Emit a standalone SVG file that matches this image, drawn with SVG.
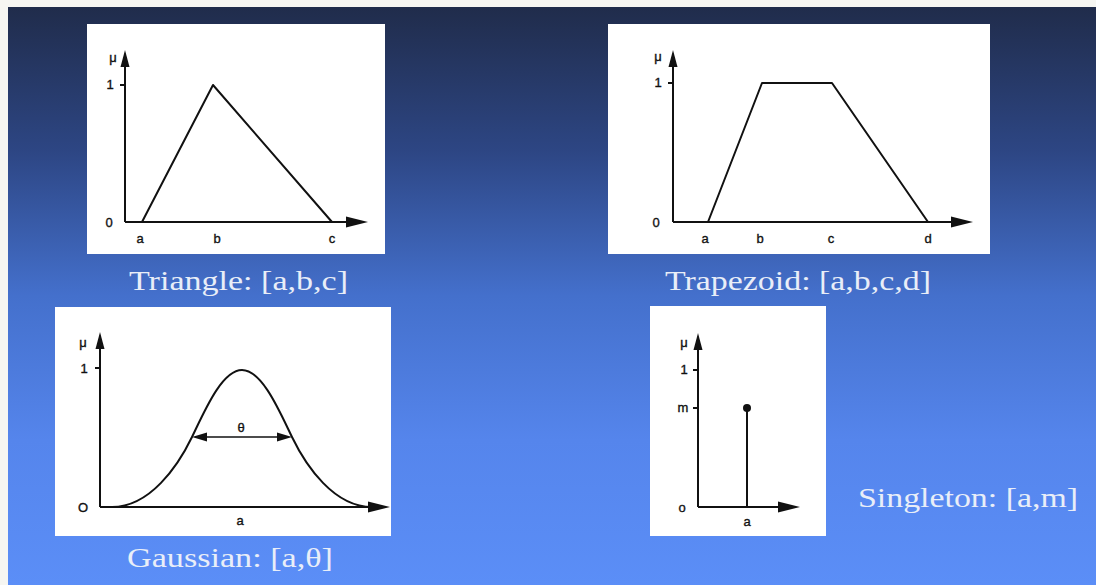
<svg xmlns="http://www.w3.org/2000/svg" width="1096" height="585" viewBox="0 0 1096 585">
<defs>
<linearGradient id="bg" x1="0" y1="7" x2="0" y2="585" gradientUnits="userSpaceOnUse">
<stop offset="0" stop-color="#202c4b"/>
<stop offset="0.25" stop-color="#2d4684"/>
<stop offset="0.5" stop-color="#4470cc"/>
<stop offset="0.75" stop-color="#5585ec"/>
<stop offset="1" stop-color="#5b8ef7"/>
</linearGradient>
<style>
.box{fill:#ffffff}
.ax{stroke:#111;stroke-width:2;fill:none}
.cv{stroke:#111;stroke-width:2;fill:none;stroke-linejoin:round}
.ah{fill:#111}
.lb{font-family:"Liberation Sans",Arial,sans-serif;font-size:13px;fill:#111;stroke:#111;stroke-width:0.35;text-anchor:middle}
.cap{font-family:"Liberation Serif","Times New Roman",serif;font-size:28px;fill:#e9eef8}
</style>
</defs>
<rect x="0" y="0" width="1096" height="585" fill="#f6f6f2"/>
<rect x="8" y="7" width="1088" height="578" fill="url(#bg)"/>

<g id="triangle">
<rect class="box" x="87" y="24" width="298" height="230"/>
<line class="ax" x1="125" y1="222" x2="125" y2="64"/>
<polygon class="ah" points="125,50 120.5,67 129.5,67"/>
<line class="ax" x1="125" y1="222" x2="350" y2="222"/>
<polygon class="ah" points="368,222 346,216.5 346,227.5"/>
<line class="ax" x1="120" y1="85" x2="125" y2="85"/>
<polyline class="cv" points="142,222 213,85 332,222"/>
<text class="lb" x="113" y="62">μ</text>
<text class="lb" x="110" y="89">1</text>
<text class="lb" x="109" y="227">0</text>
<text class="lb" x="140" y="243">a</text>
<text class="lb" x="217" y="243">b</text>
<text class="lb" x="332" y="243">c</text>
<text class="cap" x="129" y="290" textLength="219" lengthAdjust="spacingAndGlyphs">Triangle: [a,b,c]</text>
</g>

<g id="trapezoid">
<rect class="box" x="608" y="24" width="382" height="230"/>
<line class="ax" x1="673" y1="222" x2="673" y2="64"/>
<polygon class="ah" points="673,50 668.5,67 677.5,67"/>
<line class="ax" x1="673" y1="222" x2="955" y2="222"/>
<polygon class="ah" points="973,222 951,216.5 951,227.5"/>
<line class="ax" x1="668" y1="83" x2="673" y2="83"/>
<polyline class="cv" points="708,222 762,83 832,83 928,222"/>
<text class="lb" x="658" y="61">μ</text>
<text class="lb" x="658" y="87">1</text>
<text class="lb" x="656" y="227">0</text>
<text class="lb" x="705" y="243">a</text>
<text class="lb" x="760" y="243">b</text>
<text class="lb" x="831" y="243">c</text>
<text class="lb" x="928" y="243">d</text>
<text class="cap" x="665" y="290" textLength="266" lengthAdjust="spacingAndGlyphs">Trapezoid: [a,b,c,d]</text>
</g>

<g id="gaussian">
<rect class="box" x="55" y="307" width="336" height="229"/>
<line class="ax" x1="100" y1="507" x2="100" y2="346"/>
<polygon class="ah" points="100,332 95.5,349 104.5,349"/>
<line class="ax" x1="100" y1="507" x2="372" y2="507"/>
<polygon class="ah" points="390,507 368,501.5 368,512.5"/>
<line class="ax" x1="95" y1="368" x2="100" y2="368"/>
<path class="cv" d="M112,507 C150,507 178,466 192,437 C204.6,410.9 222,370 242,370 C262,370 279.4,410.9 292,437 C306,466 334,507 372,507"/>
<line class="ax" x1="200" y1="437" x2="285" y2="437" style="stroke-width:1.5"/>
<polygon class="ah" points="192,437 207,432.5 207,441.5"/>
<polygon class="ah" points="292,437 277,432.5 277,441.5"/>
<text class="lb" x="241" y="432">θ</text>
<text class="lb" x="83" y="347">μ</text>
<text class="lb" x="84" y="373">1</text>
<text class="lb" x="83" y="512">O</text>
<text class="lb" x="240" y="525">a</text>
<text class="cap" x="127" y="567" textLength="206" lengthAdjust="spacingAndGlyphs">Gaussian: [a,θ]</text>
</g>

<g id="singleton">
<rect class="box" x="650" y="306" width="176" height="230"/>
<line class="ax" x1="698" y1="507" x2="698" y2="347"/>
<polygon class="ah" points="698,333 693.5,350 702.5,350"/>
<line class="ax" x1="698" y1="507" x2="782" y2="507"/>
<polygon class="ah" points="800,507 778,501.5 778,512.5"/>
<line class="ax" x1="693" y1="370" x2="698" y2="370"/>
<line class="ax" x1="693" y1="408" x2="698" y2="408"/>
<line class="ax" x1="747" y1="408" x2="747" y2="507"/>
<circle class="ah" cx="747" cy="408" r="4"/>
<text class="lb" x="684" y="347">μ</text>
<text class="lb" x="684" y="374">1</text>
<text class="lb" x="683" y="412">m</text>
<text class="lb" x="682" y="512">o</text>
<text class="lb" x="747" y="526">a</text>
<text class="cap" x="858" y="507" textLength="220" lengthAdjust="spacingAndGlyphs">Singleton: [a,m]</text>
</g>
</svg>
